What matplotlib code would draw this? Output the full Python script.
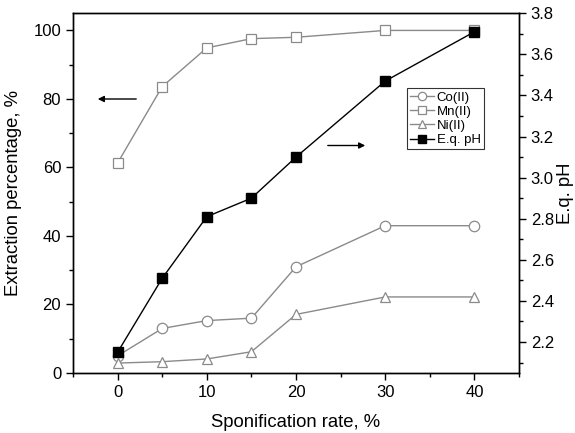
import matplotlib
matplotlib.use("Agg")
import matplotlib.pyplot as plt
from matplotlib.ticker import MultipleLocator

plt.rcParams['font.family'] = ['Liberation Sans', 'DejaVu Sans']

rate = [0, 5, 10, 15, 20, 30, 40]
co = [5.0, 13.0, 15.3, 16.0, 31.0, 43.0, 43.0]
mn = [61.3, 83.6, 94.9, 97.6, 98.0, 100.0, 100.0]
ni = [2.9, 3.3, 4.1, 6.2, 17.1, 22.2, 22.2]
ph = [2.15, 2.51, 2.81, 2.90, 3.10, 3.47, 3.71]

W, H = 575, 433
fig = plt.figure(figsize=(W / 100, H / 100), dpi=100)
ax = fig.add_axes([73 / W, 1 - 373 / H, (519 - 73) / W, (373 - 13.3) / H])
ax2 = ax.twinx()

grey = '#8a8a8a'
l1, = ax.plot(rate, co, '-o', color=grey, mfc='white', mec=grey, ms=7.5, lw=1.0, mew=0.9, label='Co(II)')
l2, = ax.plot(rate, mn, '-s', color=grey, mfc='white', mec=grey, ms=7, lw=1.0, mew=0.9, label='Mn(II)')
l3, = ax.plot(rate, ni, '-^', color=grey, mfc='white', mec=grey, ms=7.5, lw=1.0, mew=0.9, label='Ni(II)')
l4, = ax2.plot(rate, ph, '-s', color='black', mfc='black', mec='black', ms=7, lw=1.0, label='E.q. pH')

ax.set_xlim(-5, 45)
ax.set_ylim(0, 105)
ax2.set_ylim(2.049, 3.8)

ax.xaxis.set_major_locator(MultipleLocator(10))
ax.xaxis.set_minor_locator(MultipleLocator(5))
ax.yaxis.set_major_locator(MultipleLocator(20))
ax.yaxis.set_minor_locator(MultipleLocator(10))
ax2.yaxis.set_major_locator(MultipleLocator(0.2))
ax2.yaxis.set_minor_locator(MultipleLocator(0.1))
ax2.yaxis.set_major_formatter(matplotlib.ticker.FormatStrFormatter('%.1f'))

for a in (ax, ax2):
    a.tick_params(which='major', direction='out', length=5, width=1, labelsize=12, colors='black')
    a.tick_params(which='minor', direction='out', length=3, width=1)
    for s in a.spines.values():
        s.set_linewidth(1.0)
ax.tick_params(axis='x', which='both', top=False)

ax.set_xlabel('Sponification rate, %', fontsize=13.3, labelpad=10)
ax.set_ylabel('Extraction percentage, %', fontsize=13.3, labelpad=8)
ax2.set_ylabel('E.q. pH', fontsize=13.3, labelpad=2)

# direction arrows
ax.annotate('', xy=(95 / W, 1 - 99 / H), xytext=(139 / W, 1 - 99 / H),
            xycoords='figure fraction', textcoords='figure fraction',
            arrowprops=dict(arrowstyle='-|>', color='black', lw=1.0, mutation_scale=9))
ax.annotate('', xy=(368 / W, 1 - 145.5 / H), xytext=(325 / W, 1 - 145.5 / H),
            xycoords='figure fraction', textcoords='figure fraction',
            arrowprops=dict(arrowstyle='-|>', color='black', lw=1.0, mutation_scale=9))

leg = fig.legend(handles=[l1, l2, l3, l4], loc='upper left',
                 bbox_to_anchor=(407 / W, 1 - 88 / H), bbox_transform=fig.transFigure,
                 fontsize=9.5, frameon=True, fancybox=False, edgecolor='black',
                 handlelength=1.8, handletextpad=0.2, borderpad=0.25, labelspacing=0.15,
                 borderaxespad=0, markerscale=0.8)
leg.get_frame().set_linewidth(0.8)

fig.savefig('out.png', dpi=100)
